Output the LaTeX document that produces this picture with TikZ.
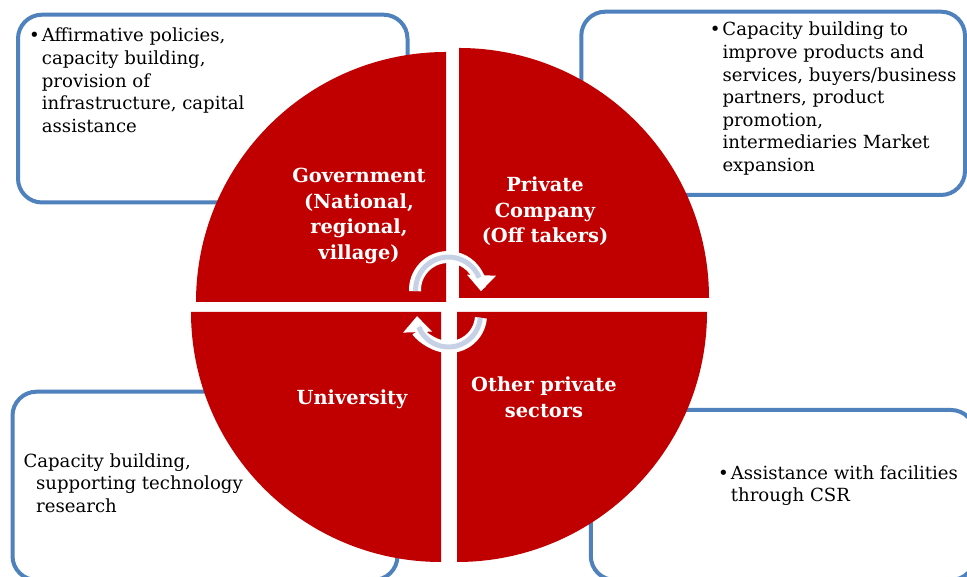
\documentclass[tikz,border=0pt]{standalone}
\usepackage{fontspec}
\setmainfont{DejaVu Serif}
\usetikzlibrary{arrows.meta}
\definecolor{qred}{HTML}{C00000}
\definecolor{qblue}{HTML}{4F81BD}
\definecolor{qlight}{HTML}{C6D1E6}
\newcommand{\bodyfont}{\fontsize{18.1}{22.6}\selectfont}
\newcommand{\labfont}{\fontsize{19.4}{25.5}\selectfont\bfseries}
\newcommand{\bul}{\makebox[12.7pt][l]{•}}
\newcommand{\blist}[1]{\begin{tabular}[t]{@{}l@{}l@{}}#1\end{tabular}}
\newcommand{\llist}[1]{\begin{tabular}[t]{@{}l@{}}#1\end{tabular}}
\newcommand{\clist}[1]{\begin{tabular}[t]{@{}c@{}}#1\end{tabular}}
\begin{document}
\begin{tikzpicture}[x=1pt,y=1pt,
  infobox/.style={draw=qblue, line width=4pt, rounded corners=24pt},
  quarter/.style={fill=qred},
  bodytext/.style={anchor=base west, inner sep=0pt, text=black, font=\bodyfont},
  seglabel/.style={anchor=base, inner sep=0pt, text=white, font=\labfont},
  cycband/.style={draw=white, line width=12pt},
  cycinner/.style={draw=qlight, line width=5pt},
]
\useasboundingbox (0,0) rectangle (967,577);
\clip (0,0) rectangle (967,577);
\fill[white] (0,0) rectangle (967,577);

% information boxes
\draw[infobox] (18,562.3) rectangle (407.5,374.5);
\draw[infobox] (581.3,565.3) rectangle (965,382);
\draw[infobox] (12.5,185.3) rectangle (397.5,-3);
\draw[infobox] (590.8,167) rectangle (975,-3);

% four quarters
\fill[quarter] (446,275) -- (196,275) arc[start angle=180,end angle=90,radius=250] -- cycle;
\fill[quarter] (459,279) -- (459,529) arc[start angle=90,end angle=0,radius=250] -- cycle;
\fill[quarter] (441,265) -- (191,265) arc[start angle=180,end angle=270,radius=250] -- cycle;
\fill[quarter] (457,265) -- (707,265) arc[start angle=0,end angle=-90,radius=250] -- cycle;

% circular arrows
\coordinate (ta) at (415.0,285.8);
\coordinate (ba) at (480.9,259.2);
\draw[cycband,-{Triangle[width=28pt,length=16pt]}] (ta) arc[start angle=182,end angle=-2,radius=33];
\draw[cycinner] (ta) ++(0.6,0) arc[start angle=182,end angle=22,radius=33];
\draw[cycband,-{Triangle[width=28pt,length=16pt]}] (ba) arc[start angle=-5,end angle=-178,radius=32];
\draw[cycinner] (ba) ++(-0.6,0) arc[start angle=-5,end angle=-158,radius=32];

% segment labels
\node[seglabel] (gov) at (359,394.3) {\clist{Government\\(National,\\regional,\\village)}};
\node[seglabel] (priv) at (545,385.3) {\clist{Private\\Company\\(Off takers)}};
\node[seglabel] (uni) at (352,172) {\clist{University}};
\node[seglabel] (oth) at (544,185) {\clist{Other private\\sectors}};

% box texts
\node[bodytext] (govtxt) at (29,535) {\blist{\bul & Affirmative policies,\\ & capacity building,\\ & provision of\\ & infrastructure, capital\\ & assistance}};
\node[bodytext] (privtxt) at (709.6,541) {\blist{\bul & Capacity building to\\ & improve products and\\ & services, buyers/business\\ & partners, product\\ & promotion,\\ & intermediaries Market\\ & expansion}};
\node[bodytext] (unitxt) at (23.3,109.7) {\llist{Capacity building,\\\hspace*{12.7pt}supporting technology\\\hspace*{12.7pt}research}};
\node[bodytext] (othtxt) at (718,97.7) {\blist{\bul & Assistance with facilities\\ & through CSR}};
\end{tikzpicture}
\end{document}
